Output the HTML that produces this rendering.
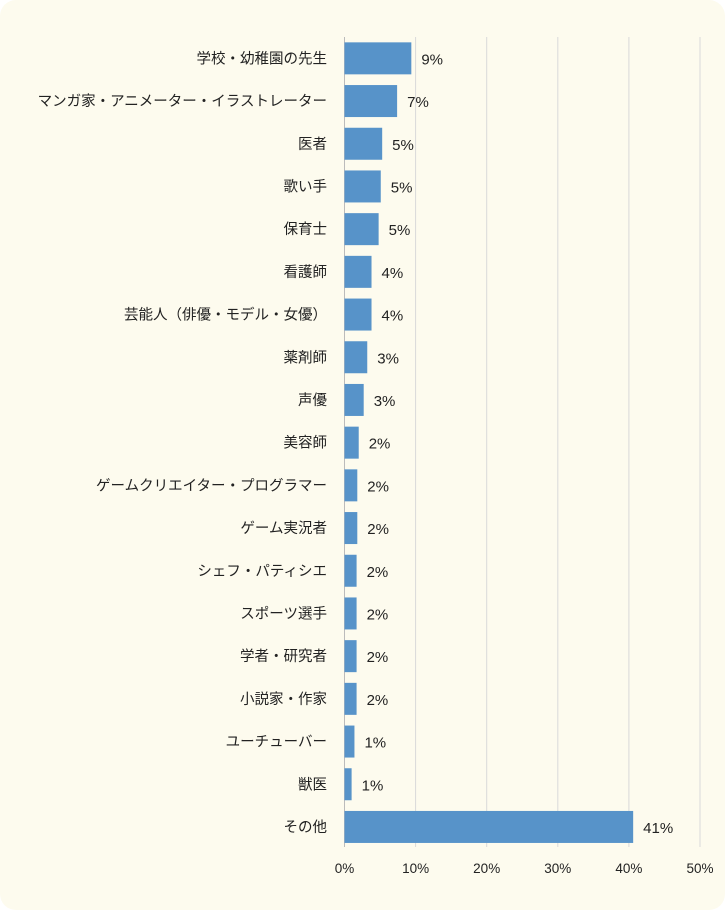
<!DOCTYPE html>
<html><head><meta charset="utf-8"><style>
html,body{margin:0;padding:0;background:#fff;}
#card{position:absolute;left:0;top:0;width:725px;height:910px;background:#fdfbee;border-radius:16px;}
svg{position:absolute;left:0;top:0;}
text{font-family:"Liberation Sans","Noto Sans CJK JP",sans-serif;fill:#222;}
</style></head><body>
<div id="card"></div>
<svg id="chart" width="725" height="915"></svg>
<script>
const categories=["学校・幼稚園の先生","マンガ家・アニメーター・イラストレーター","医者","歌い手","保育士","看護師","芸能人（俳優・モデル・女優）","薬剤師","声優","美容師","ゲームクリエイター・プログラマー","ゲーム実況者","シェフ・パティシエ","スポーツ選手","学者・研究者","小説家・作家","ユーチューバー","獣医","その他"];
const values=[9.4,7.4,5.3,5.1,4.8,3.8,3.8,3.2,2.7,2.0,1.8,1.8,1.7,1.7,1.7,1.7,1.4,1.0,40.6];
const valueLabels=["9%","7%","5%","5%","5%","4%","4%","3%","3%","2%","2%","2%","2%","2%","2%","2%","1%","1%","41%"];
const tickValues=[0,10,20,30,40,50];
const tickLabels=["0%","10%","20%","30%","40%","50%"];
const svg=document.getElementById('chart');
const NS='http://www.w3.org/2000/svg';
const x0=344.5,x1=700,top0=37,rowH=42.7,barH=32;
const xs=v=>x0+(v-0)/(50-0)*(x1-x0);
const yc=i=>top0+rowH*i+rowH/2;
function mk(t,a){const e=document.createElementNS(NS,t);for(const k in a)e.setAttribute(k,a[k]);svg.appendChild(e);return e;}
tickValues.forEach((t,i)=>{
  const g=mk('line',{x1:xs(t),x2:xs(t),y1:37,y2:847,stroke:i==0?'#bbb':'#d9d9d9','stroke-width':1});
  
  
  const tl=mk('text',{x:xs(t),y:873,'text-anchor':'middle','font-size':13.5});
  tl.textContent=tickLabels[i];
  
  
});
categories.forEach((c,i)=>{
  const y=yc(i);
  const r=mk('rect',{x:x0,y:y-barH/2,width:xs(values[i])-x0,height:barH,fill:'#5793c9'});
  
  
  const l=mk('text',{x:327,y:y+5,'text-anchor':'end','font-size':14.5});
  l.textContent=c;
  
  
  const v=mk('text',{x:xs(values[i])+10,y:y+6,'font-size':15});
  v.textContent=valueLabels[i];
  
  
});
</script>
</body></html>
